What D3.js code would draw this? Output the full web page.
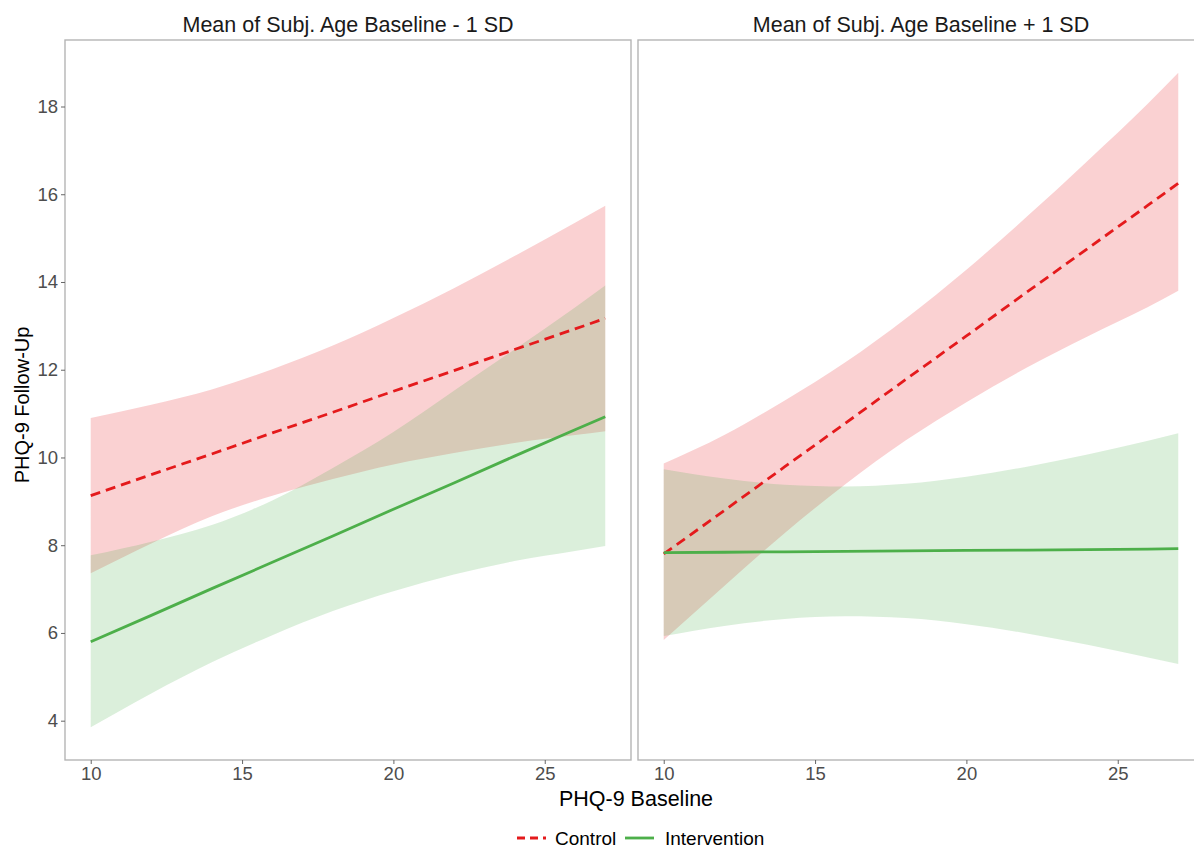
<!DOCTYPE html>
<html>
<head>
<meta charset="utf-8">
<script src="https://cdn.jsdelivr.net/npm/d3@7"></script>
<style>
  body { margin: 0; background: #fff; }
  svg { display: block; font-family: "Liberation Sans", Arial, sans-serif; }
</style>
</head>
<body>
<svg id="chart" width="1194" height="848"></svg>
<script>
// values
var panelTitles = ["Mean of Subj. Age Baseline - 1 SD", "Mean of Subj. Age Baseline + 1 SD"];
var groups = ["Control", "Intervention"];
var xTicks = [10, 15, 20, 25];
var yTicks = [4, 6, 8, 10, 12, 14, 16, 18];
var xGrid = [10, 12, 14, 16, 18, 20, 22, 24, 26, 27];

// age - 1 SD
var ctlLowFit   = [9.13, 9.61, 10.08, 10.56, 11.03, 11.51, 11.98, 12.46, 12.93, 13.17];
var ctlLowUpper = [10.90, 11.20, 11.55, 12.01, 12.55, 13.18, 13.86, 14.59, 15.35, 15.74];
var ctlLowLower = [7.36, 8.04, 8.66, 9.13, 9.51, 9.84, 10.10, 10.33, 10.51, 10.60];
var intLowFit   = [5.80, 6.40, 7.01, 7.61, 8.21, 8.82, 9.42, 10.03, 10.63, 10.93];
var intLowUpper = [7.77, 8.08, 8.46, 9.02, 9.76, 10.58, 11.52, 12.46, 13.42, 13.92];
var intLowLower = [3.85, 4.62, 5.33, 5.95, 6.50, 6.95, 7.33, 7.64, 7.87, 7.98];

// age + 1 SD
var ctlHighFit   = [7.80, 8.79, 9.79, 10.78, 11.78, 12.77, 13.77, 14.76, 15.75, 16.25];
var ctlHighUpper = [9.86, 10.51, 11.30, 12.17, 13.17, 14.28, 15.49, 16.76, 18.07, 18.77];
var ctlHighLower = [5.84, 7.07, 8.28, 9.39, 10.39, 11.26, 12.05, 12.76, 13.43, 13.80];
var intHighFit   = [7.83, 7.84, 7.85, 7.86, 7.87, 7.88, 7.89, 7.90, 7.91, 7.92];
var intHighUpper = [9.73, 9.52, 9.38, 9.34, 9.40, 9.56, 9.79, 10.07, 10.38, 10.55];
var intHighLower = [5.93, 6.16, 6.32, 6.38, 6.34, 6.20, 5.99, 5.73, 5.44, 5.29];

var colors = { "Control": "#E41A1C", "Intervention": "#4DAF4A" };
var dashes = { "Control": "10,6", "Intervention": null };

function series(fit, up, lo) {
  return xGrid.map(function(x, i) { return { x: x, fit: fit[i], up: up[i], lo: lo[i] }; });
}

var panels = [
  { title: panelTitles[0], left: 65, lines: [
      { group: "Control", data: series(ctlLowFit, ctlLowUpper, ctlLowLower) },
      { group: "Intervention", data: series(intLowFit, intLowUpper, intLowLower) } ] },
  { title: panelTitles[1], left: 638, lines: [
      { group: "Control", data: series(ctlHighFit, ctlHighUpper, ctlHighLower) },
      { group: "Intervention", data: series(intHighFit, intHighUpper, intHighLower) } ] }
];

var svg = d3.select("#chart");
var plotTop = 40, plotBottom = 760, panelW = 566;

// ggplot style 5% expansion
var allY = [].concat(ctlLowUpper, ctlLowLower, intLowUpper, intLowLower, ctlHighUpper, ctlHighLower, intHighUpper, intHighLower);
var yMin = d3.min(allY), yMax = d3.max(allY);
var yPad = (yMax - yMin) * 0.05;
var xPad = (d3.max(xGrid) - d3.min(xGrid)) * 0.05;

var yScale = d3.scaleLinear().domain([yMin - yPad, yMax + yPad]).range([plotBottom, plotTop]);

panels.forEach(function(p, pi) {
  var xScale = d3.scaleLinear()
    .domain([d3.min(xGrid) - xPad, d3.max(xGrid) + xPad])
    .range([p.left, p.left + panelW]);

  var g = svg.append("g");

  var area = d3.area()
    .x(function(d) { return xScale(d.x); })
    .y0(function(d) { return yScale(d.lo); })
    .y1(function(d) { return yScale(d.up); })
    .curve(d3.curveMonotoneX);

  var line = d3.line()
    .x(function(d) { return xScale(d.x); })
    .y(function(d) { return yScale(d.fit); });

  p.lines.forEach(function(s) {
    g.append("path")
      .datum(s.data)
      .attr("d", area)
      .attr("fill", colors[s.group])
      .attr("fill-opacity", 0.2);
  });

  p.lines.forEach(function(s) {
    g.append("path")
      .datum(s.data)
      .attr("d", line)
      .attr("fill", "none")
      .attr("stroke", colors[s.group])
      .attr("stroke-width", 2.8)
      .attr("stroke-dasharray", dashes[s.group]);
  });

  // panel border
  g.append("rect")
    .attr("x", p.left).attr("y", plotTop)
    .attr("width", panelW).attr("height", plotBottom - plotTop)
    .attr("fill", "none")
    .attr("stroke", "#b5b5b5")
    .attr("stroke-width", 1.4);

  var xAxis = d3.axisBottom(xScale).tickValues(xTicks).tickSize(4).tickPadding(3);
  var xg = g.append("g")
    .attr("transform", "translate(0," + plotBottom + ")")
    .call(xAxis);
  xg.select(".domain").remove();
  xg.selectAll("line").attr("stroke", "#666");
  xg.selectAll("text").attr("fill", "#4d4d4d").style("font-size", "18.5px")
    .style("font-family", "Liberation Sans, Arial, sans-serif");

  if (pi == 0) {
    var yAxis = d3.axisLeft(yScale).tickValues(yTicks).tickSize(4).tickPadding(3);
    var yg = g.append("g")
      .attr("transform", "translate(" + p.left + ",0)")
      .call(yAxis);
    yg.select(".domain").remove();
    yg.selectAll("line").attr("stroke", "#666");
    yg.selectAll("text").attr("fill", "#4d4d4d").style("font-size", "18.5px")
      .style("font-family", "Liberation Sans, Arial, sans-serif");
  }

  g.append("text")
    .attr("x", p.left + panelW / 2)
    .attr("y", 32)
    .attr("text-anchor", "middle")
    .attr("fill", "#1a1a1a")
    .style("font-size", "21.5px")
    .text(p.title);
});

// axis titles
svg.append("text")
  .attr("x", 636)
  .attr("y", 806)
  .attr("text-anchor", "middle")
  .style("font-size", "21.5px")
  .attr("fill", "#000")
  .text("PHQ-9 Baseline");

svg.append("text")
  .attr("transform", "translate(29,405) rotate(-90)")
  .attr("text-anchor", "middle")
  .style("font-size", "20px")
  .attr("fill", "#000")
  .text("PHQ-9 Follow-Up");

// legend
var legendItems = [
  { group: groups[0], x: 517, tx: 555 },
  { group: groups[1], x: 625, tx: 665 }
];
var lg = svg.append("g");
legendItems.forEach(function(it) {
  lg.append("line")
    .attr("x1", it.x).attr("x2", it.x + 29)
    .attr("y1", 838).attr("y2", 838)
    .attr("stroke", colors[it.group])
    .attr("stroke-width", 2.8)
    .attr("stroke-dasharray", it.group == "Control" ? "8,5" : null);
  lg.append("text")
    .attr("x", it.tx)
    .attr("y", 845)
    .style("font-size", "19px")
    .attr("fill", "#000")
    .text(it.group);
});
</script>
</body>
</html>
